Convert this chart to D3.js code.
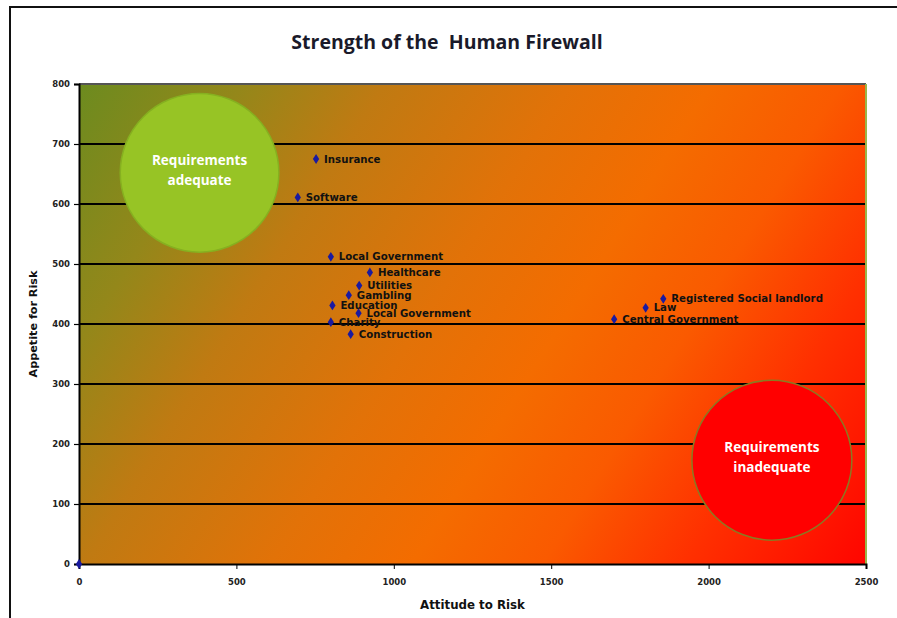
<!DOCTYPE html>
<html><head><meta charset="utf-8">
<script src="https://cdn.jsdelivr.net/npm/d3@7"></script>
<style>body{margin:0;background:#fff}svg{display:block}</style>
</head><body>
<script>
const names = ["Insurance","Software","Local Government","Healthcare","Utilities","Gambling","Education","Local Government","Charity","Construction","Registered Social landlord","Law","Central Government",""];
const attitude = [753,695,800,924,890,857,805,888,800,863,1856,1800,1700,0];
const appetite = [675,611,512,486,464,448,431,418,403,383,442,427,408,0];
const xTicks = [0,500,1000,1500,2000,2500];
const yTicks = [0,100,200,300,400,500,600,700,800];
const zoneLabels = [["Requirements","adequate"],["Requirements","inadequate"]];
const zoneX = [383,2201];
const zoneY = [652,173];
const zoneR = [252,254];
const title = "Strength of the  Human Firewall";
const xTitle = "Attitude to Risk";
const yTitle = "Appetite for Risk";

const W=897,H=618;
const m={l:79,t:84,r:W-866,b:H-564};
const pw=W-m.l-m.r, ph=H-m.t-m.b;
const svg=d3.select("body").append("svg").attr("width",W).attr("height",H);
const font="'DejaVu Sans', Verdana, sans-serif";
const tfont="'Open Sans', sans-serif";

svg.append("rect").attr("x",10).attr("y",7).attr("width",W+10).attr("height",H+10)
  .attr("fill","none").attr("stroke","#111").attr("stroke-width",2);

const x=d3.scaleLinear().domain([0,2500]).range([0,pw]);
const y=d3.scaleLinear().domain([0,800]).range([ph,0]);

// gradient
const ux=0.85, uy=0.53, L=pw*ux+ph*uy;
const defs=svg.append("defs");
const g0=defs.append("linearGradient").attr("id","bg").attr("gradientUnits","userSpaceOnUse")
  .attr("x1",0).attr("y1",0).attr("x2",L*ux).attr("y2",L*uy);
[[0,"#6c8b1f"],[0.15,"#94871a"],[0.28,"#c07a12"],[0.45,"#e27208"],[0.58,"#f46c00"],[0.7,"#fa5a00"],[0.83,"#ff3000"],[1,"#ff0400"]]
 .forEach(s=>g0.append("stop").attr("offset",s[0]).attr("stop-color",s[1]));

const g=svg.append("g").attr("transform",`translate(${m.l},${m.t})`);
g.append("rect").attr("width",pw).attr("height",ph).attr("fill","url(#bg)");

// gridlines
g.selectAll(".grid").data(yTicks.filter(d=>d>0&&d<800)).enter().append("line")
  .attr("x1",0).attr("x2",pw).attr("y1",d=>y(d)).attr("y2",d=>y(d))
  .attr("stroke","#000").attr("stroke-width",2);
g.append("line").attr("x1",0).attr("x2",pw).attr("y1",y(800)).attr("y2",y(800)).attr("stroke","#555").attr("stroke-width",2);
g.append("line").attr("x1",pw).attr("x2",pw).attr("y1",0).attr("y2",ph).attr("stroke","#9bb54a").attr("stroke-width",2);

// zones
const zc=[{fill:"#97c425",stroke:"#86b020"},{fill:"#ff0000",stroke:"#8a7a22"}];
zoneX.forEach((zx,i)=>{
  g.append("circle").attr("cx",x(zx)).attr("cy",y(zoneY[i])).attr("r",x(zoneR[i]))
   .attr("fill",zc[i].fill).attr("stroke",zc[i].stroke).attr("stroke-width",1.5);
  const t=g.append("text").attr("x",x(zx)).attr("y",y(zoneY[i])-8).attr("text-anchor","middle")
   .attr("fill","#fff").attr("font-family",tfont).attr("font-weight","bold").attr("font-size",13.5);
  zoneLabels[i].forEach((s,j)=>t.append("tspan").attr("x",x(zx)).attr("dy",j?20:0).text(s));
});

// axes
const xa=g.append("g").attr("transform",`translate(0,${ph})`)
  .call(d3.axisBottom(x).tickValues(xTicks).tickSize(5).tickPadding(10).tickFormat(d3.format("d")));
const ya=g.append("g").call(d3.axisLeft(y).tickValues(yTicks).tickSize(5).tickPadding(4).tickFormat(d3.format("d")));
[xa,ya].forEach(a=>{a.select(".domain").attr("stroke","#000").attr("stroke-width",2);
  a.selectAll(".tick line").attr("stroke","#000");
  a.selectAll("text").attr("font-family",font).attr("font-weight","bold").attr("font-size",8.5).attr("fill","#222");});
ya.selectAll(".tick line").attr("stroke-width",1.2);

// points
const pts=names.map((n,i)=>({n,x:attitude[i],y:appetite[i]}));
g.selectAll(".pt").data(pts).enter().append("path")
  .attr("d",d3.symbol(d3.symbolDiamond,34)())
  .attr("transform",d=>`translate(${x(d.x)},${y(d.y)}) scale(1,0.9)`)
  .attr("fill","#1a1aa0");
g.selectAll(".lbl").data(pts.filter(d=>d.n)).enter().append("text")
  .attr("x",d=>x(d.x)+8).attr("y",d=>y(d.y)+3.5)
  .attr("font-family",font).attr("font-weight","bold").attr("font-size",10.2).attr("fill","#111")
  .text(d=>d.n);

// titles
svg.append("text").attr("x",447).attr("y",49).attr("text-anchor","middle").style("white-space","pre")
  .attr("font-family",tfont).attr("font-weight","bold").attr("font-size",19.5).attr("fill","#1a1a2a").text(title);
svg.append("text").attr("x",m.l+pw/2).attr("y",609).attr("text-anchor","middle")
  .attr("font-family",font).attr("font-weight","bold").attr("font-size",11.8).attr("fill","#111").text(xTitle);
svg.append("text").attr("transform",`translate(37,${m.t+ph/2}) rotate(-90)`).attr("text-anchor","middle")
  .attr("font-family",font).attr("font-weight","bold").attr("font-size",11.2).attr("fill","#111").text(yTitle);
</script>
</body></html>
